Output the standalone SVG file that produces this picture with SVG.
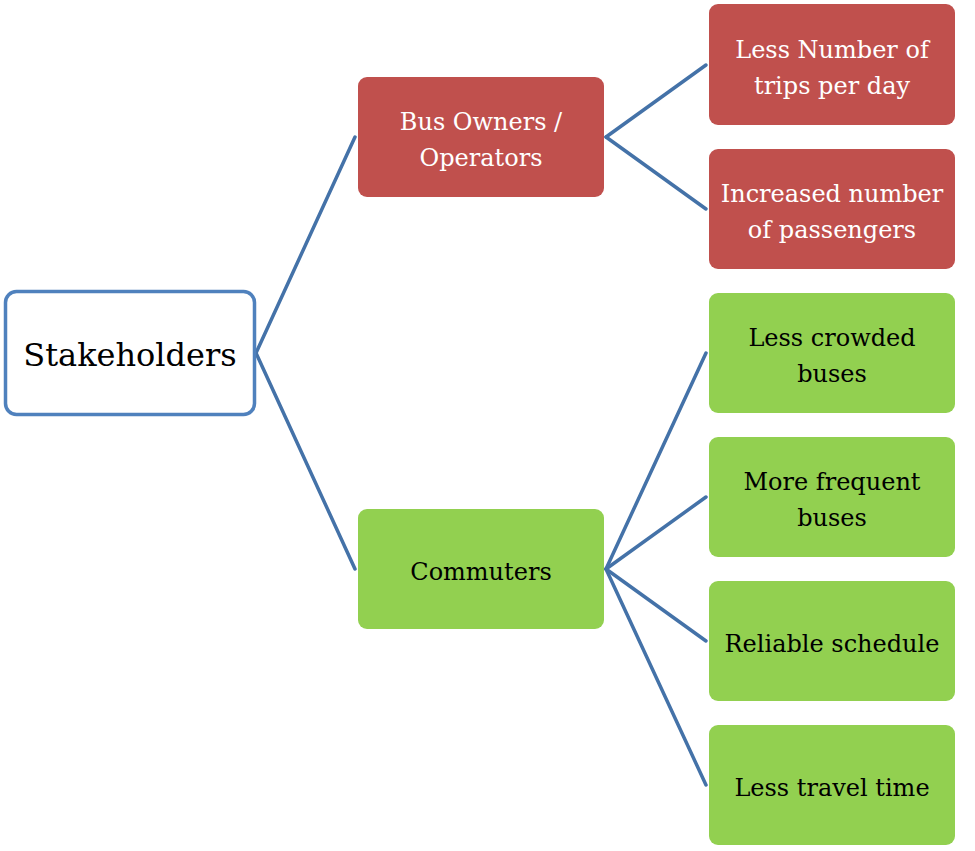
<svg xmlns="http://www.w3.org/2000/svg" width="975" height="851" viewBox="0 0 975 851">
<style>
.red{fill:#C0504D}
.green{fill:#92D050}
.t{font-family:'DejaVu Serif','Liberation Serif',serif;font-size:24px;text-anchor:middle}
.w{fill:#FFFFFF}
.k{fill:#000000}
.c{stroke:#4472A8;stroke-width:3.5;fill:none;stroke-linecap:round}
</style>
<rect width="975" height="851" fill="#FFFFFF"/>
<g id="connectors">
<line class="c" x1="256" y1="353" x2="355" y2="137"/>
<line class="c" x1="256" y1="353" x2="355" y2="569"/>
<line class="c" x1="606" y1="137" x2="706" y2="65"/>
<line class="c" x1="606" y1="137" x2="706" y2="209"/>
<line class="c" x1="606" y1="569" x2="706" y2="353"/>
<line class="c" x1="606" y1="569" x2="706" y2="497"/>
<line class="c" x1="606" y1="569" x2="706" y2="641"/>
<line class="c" x1="606" y1="569" x2="706" y2="785"/>
</g>
<g id="stakeholders">
<rect x="5.5" y="291.5" width="249" height="123" rx="11" fill="#FFFFFF" stroke="#4F81BD" stroke-width="3.5"/>
<text class="t k" x="130" y="366" style="font-size:32px">Stakeholders</text>
</g>
<g id="bus-owners">
<rect class="red" x="358" y="77" width="246" height="120" rx="9"/>
<text class="t w" x="481" y="130">Bus Owners /</text>
<text class="t w" x="481" y="166">Operators</text>
</g>
<g id="commuters">
<rect class="green" x="358" y="509" width="246" height="120" rx="9"/>
<text class="t k" x="481" y="580">Commuters</text>
</g>
<g id="less-trips">
<rect class="red" x="709" y="4" width="246" height="121" rx="9"/>
<text class="t w" x="832" y="58">Less Number of</text>
<text class="t w" x="832" y="94">trips per day</text>
</g>
<g id="more-passengers">
<rect class="red" x="709" y="149" width="246" height="120" rx="9"/>
<text class="t w" x="832" y="202">Increased number</text>
<text class="t w" x="832" y="238">of passengers</text>
</g>
<g id="less-crowded">
<rect class="green" x="709" y="293" width="246" height="120" rx="9"/>
<text class="t k" x="832" y="346">Less crowded</text>
<text class="t k" x="832" y="382">buses</text>
</g>
<g id="more-frequent">
<rect class="green" x="709" y="437" width="246" height="120" rx="9"/>
<text class="t k" x="832" y="490">More frequent</text>
<text class="t k" x="832" y="526">buses</text>
</g>
<g id="reliable">
<rect class="green" x="709" y="581" width="246" height="120" rx="9"/>
<text class="t k" x="832" y="652">Reliable schedule</text>
</g>
<g id="travel-time">
<rect class="green" x="709" y="725" width="246" height="120" rx="9"/>
<text class="t k" x="832" y="796">Less travel time</text>
</g>
</svg>
